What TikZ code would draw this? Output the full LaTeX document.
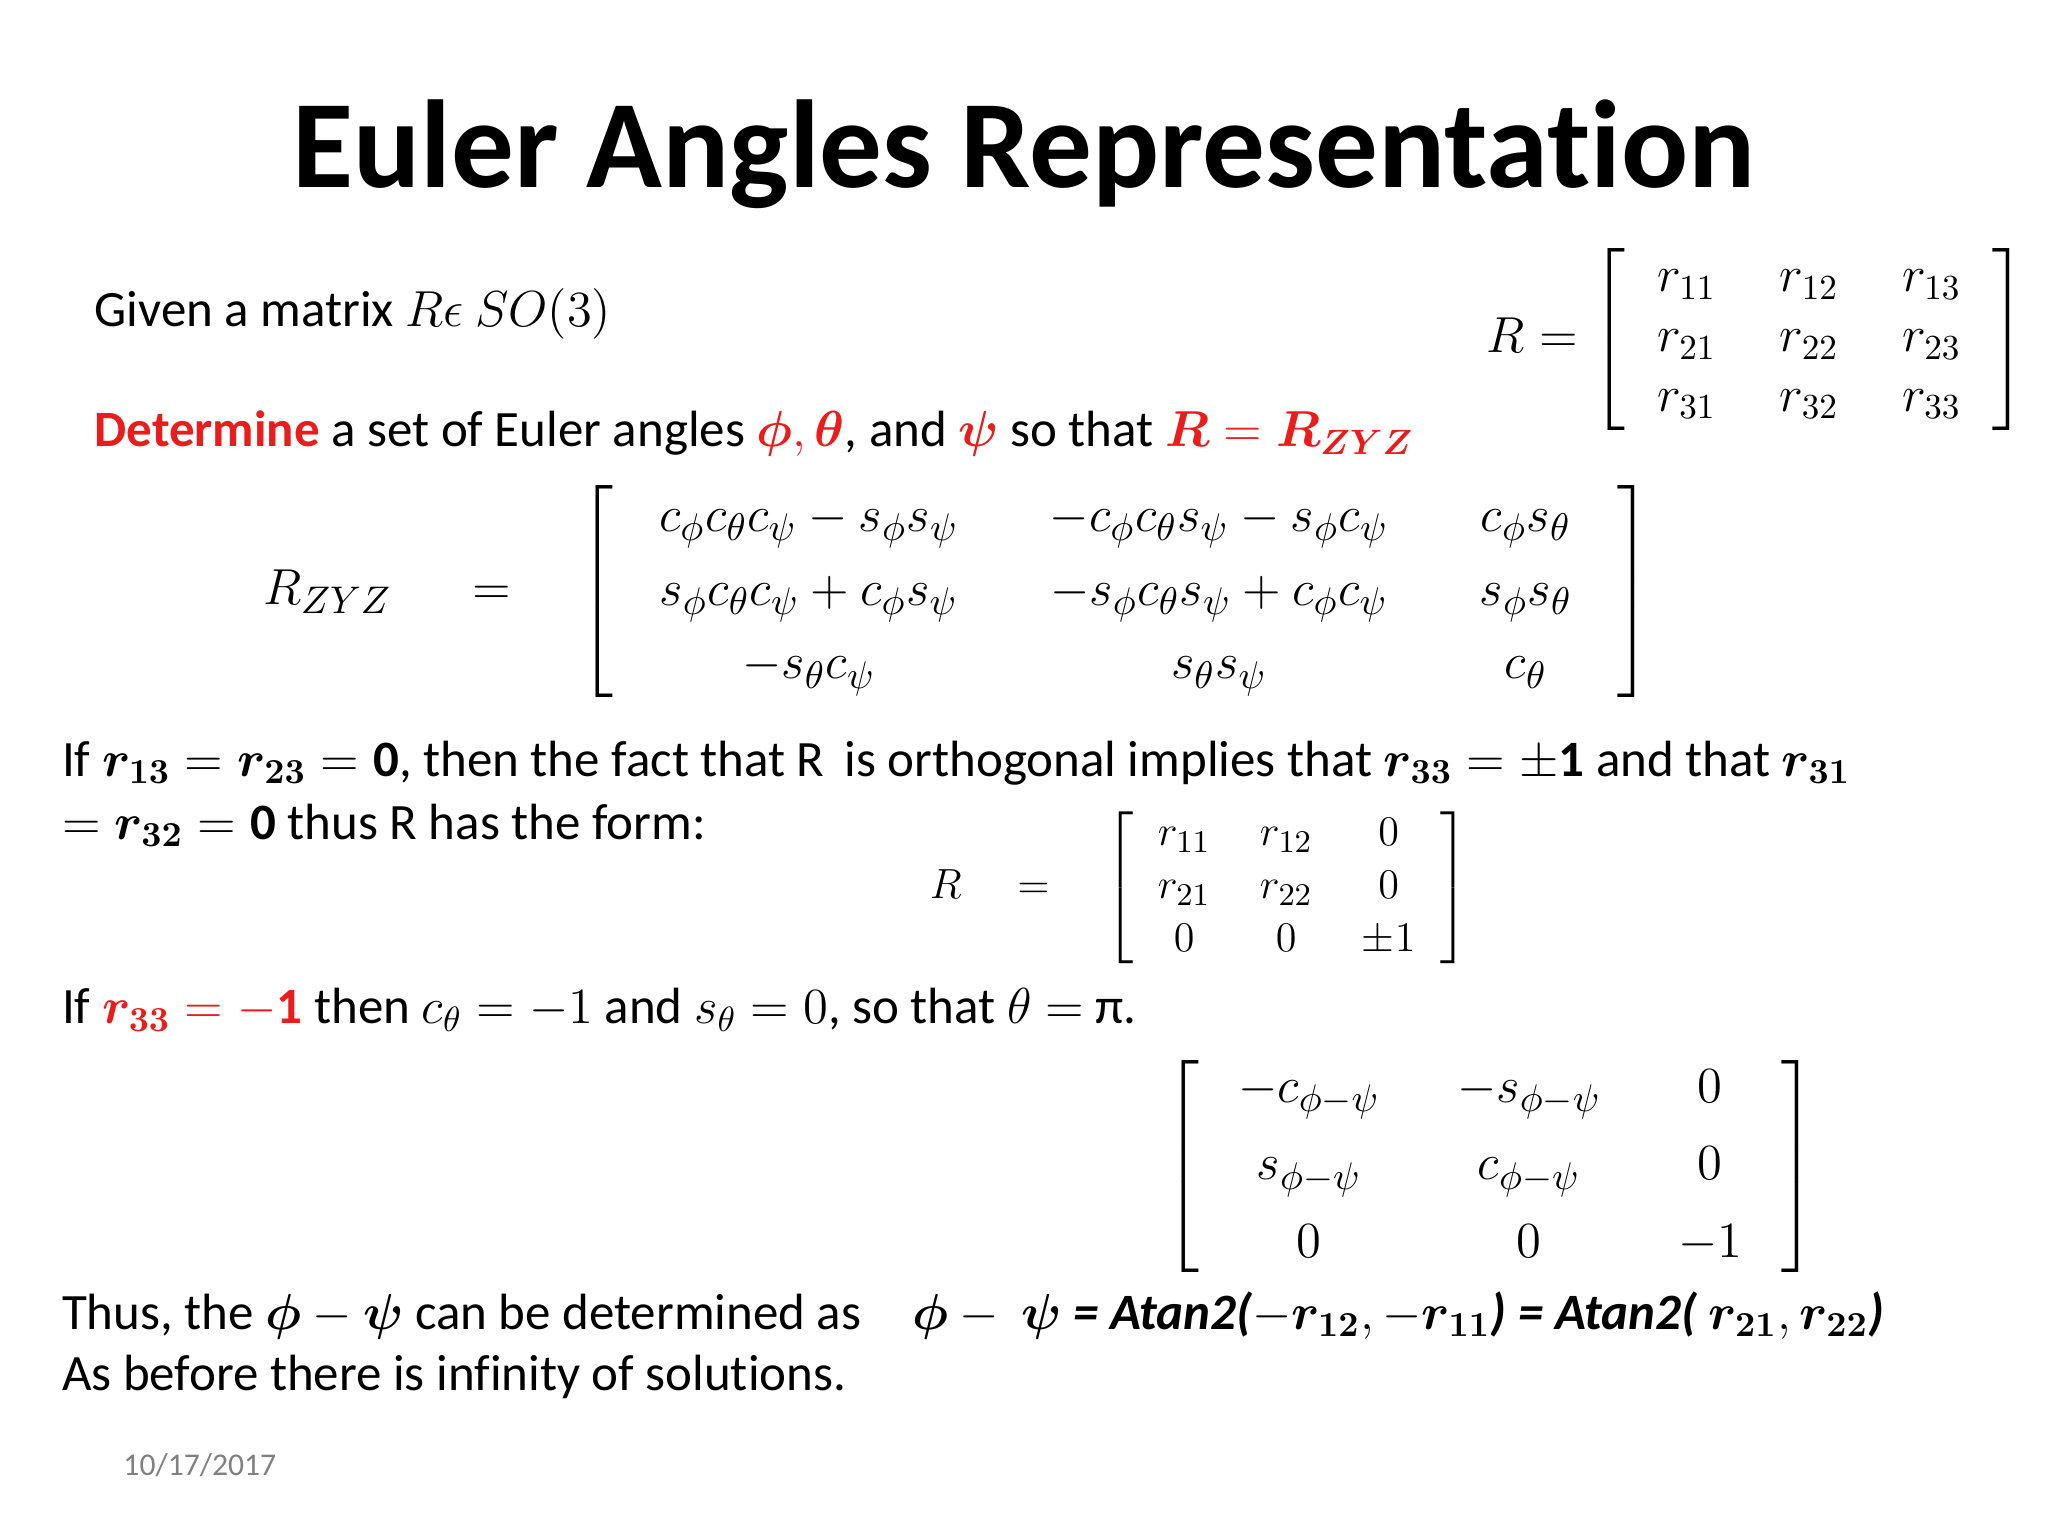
\documentclass[tikz,border=0pt]{standalone}
\usepackage{amsmath}
\usepackage{fontspec}
\setmainfont{Carlito}[Ligatures=NoCommon]
\usepackage{xcolor}
\definecolor{dred}{RGB}{235,28,28}
\newcommand{\bi}[1]{\boldsymbol{#1}}
\begin{document}
\begin{tikzpicture}[x=0.01306cm,y=-0.01306cm,
  txt/.style={anchor=west,inner sep=0pt,font=\fontsize{14.5}{17}\selectfont},
  mat/.style={inner sep=0pt}]
\useasboundingbox (0,0) rectangle (1568,1176);
\node[inner sep=0pt,font=\fontsize{35.6}{40}\bfseries\selectfont] (title) at (784,118) {Euler Angles Representation};
\node[txt] (given) at (72,240) {Given a matrix $R\epsilon\ SO(3)$};
\node[mat,font=\fontsize{14}{17}\selectfont] (R1) at (1345,260) {$R=\left[\arraycolsep=9pt\begin{array}{ccc} r_{11}&r_{12}&r_{13}\\ r_{21}&r_{22}&r_{23}\\ r_{31}&r_{32}&r_{33}\end{array}\right]$};
\node[txt] (det) at (72,332) {\textcolor{dred}{\textbf{Determine}} a set of Euler angles \textcolor{dred}{$\bi{\phi},\bi{\theta}$}, and \textcolor{dred}{$\bi{\psi}$} so that \textcolor{dred}{$\bi{R}=\bi{R_{ZYZ}}$}};
\node[mat,font=\fontsize{15.5}{19}\selectfont] (RZ) at (733,453) {$R_{ZYZ}\quad\ =\quad \left[\arraycolsep=13pt\begin{array}{ccc}
c_\phi c_\theta c_\psi - s_\phi s_\psi & -c_\phi c_\theta s_\psi - s_\phi c_\psi & c_\phi s_\theta\\[2pt]
s_\phi c_\theta c_\psi + c_\phi s_\psi & -s_\phi c_\theta s_\psi + c_\phi c_\psi & s_\phi s_\theta\\[2pt]
-s_\theta c_\psi & s_\theta s_\psi & c_\theta\end{array}\right]$};
\node[txt] (if1) at (47,584) {If $\bi{r_{13}}=\bi{r_{23}}=\mathbf{0}$, then the fact that R\, is orthogonal implies that $\bi{r_{33}}=\pm\mathbf{1}$ and that $\bi{r_{31}}$};
\node[txt] (if1b) at (47,632) {$=\bi{r_{32}}=\mathbf{0}$ thus R has the form:};
\node[mat,font=\fontsize{12.5}{15}\selectfont] (R2) at (918,680) {$R\quad=\quad\left[\arraycolsep=7pt\begin{array}{ccc} r_{11}&r_{12}&0\\ r_{21}&r_{22}&0\\ 0&0&\pm1\end{array}\right]$};
\node[txt] (if2) at (47,773) {If \textcolor{dred}{$\bi{r_{33}}=-\mathbf{1}$} then $c_\theta=-1$ and $s_\theta=0$, so that $\theta=$ π.};
\node[mat,font=\fontsize{15.5}{19}\selectfont] (R3) at (1141,893) {$\left[\arraycolsep=11pt\begin{array}{ccc} -c_{\phi-\psi}&-s_{\phi-\psi}&0\\[3pt] s_{\phi-\psi}&c_{\phi-\psi}&0\\[3pt] 0&0&-1\end{array}\right]$};
\node[txt] (thus) at (47,1007) {Thus, the $\bi{\phi}-\bi{\psi}$ can be determined as\quad $\bi{\phi}-\ \bi{\psi}$ \textbf{\textit{= Atan2(}}$-\bi{r_{12}},-\bi{r_{11}}$\textbf{\textit{) = Atan2(}} $\bi{r_{21}},\bi{r_{22}}$\textbf{\textit{)}}};
\node[txt] (asb) at (47,1054) {As before there is infinity of solutions.};
\node[txt,font=\fontsize{9}{11}\selectfont,text=gray] (date) at (94,1122) {10/17/2017};
\end{tikzpicture}
\end{document}
